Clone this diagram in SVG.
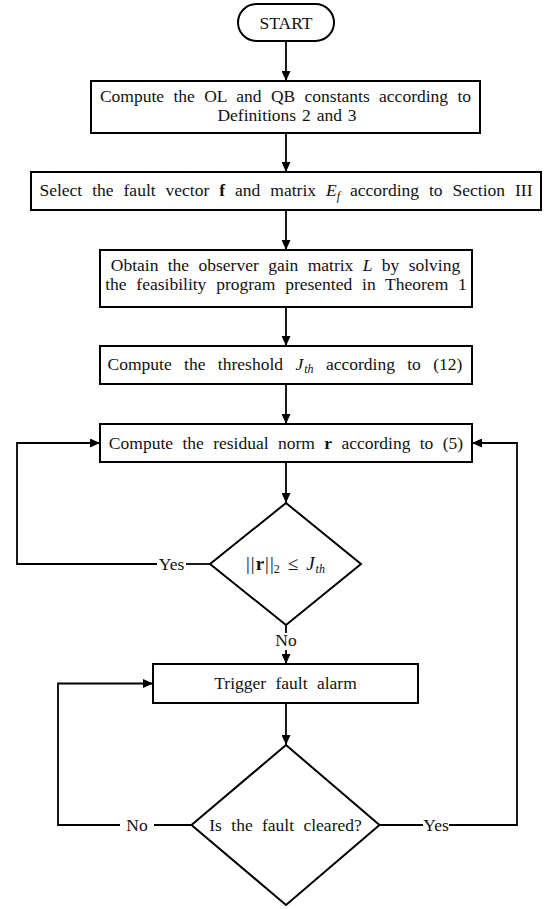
<svg xmlns="http://www.w3.org/2000/svg" width="546" height="909" viewBox="0 0 546 909">
<defs>
<marker id="arr" markerUnits="userSpaceOnUse" markerWidth="10" markerHeight="9" refX="10" refY="4.5" orient="auto">
<path d="M0,0 L10,4.5 L0,9 z" fill="#000"/>
</marker>
<style>
.box{fill:#fff;stroke:#000;stroke-width:2}
.t{font-family:"Liberation Serif","Times New Roman",serif;font-size:17.5px;fill:#111;text-anchor:middle;word-spacing:5px}
.i{font-style:italic}
.b{font-weight:bold}
.s{font-size:12px}
.c{fill:none;stroke:#000;stroke-width:1.8}
.a{marker-end:url(#arr)}
.lbl{font-family:"Liberation Serif","Times New Roman",serif;font-size:17.5px;fill:#111;text-anchor:middle}
</style>
</defs>
<rect width="546" height="909" fill="#fff"/>
<g id="connectors">
<path class="c a" d="M286,41 V81"/>
<path class="c a" d="M286,133 V172"/>
<path class="c a" d="M286,210 V250"/>
<path class="c a" d="M286,307 V346"/>
<path class="c a" d="M286,384 V424"/>
<path class="c a" d="M286,462 V503"/>
<path class="c" d="M210,564 H186"/>
<path class="c a" d="M157,564 H17 V443 H100"/>
<path class="c" d="M286,625 V633"/>
<path class="c a" d="M286,650 V664"/>
<path class="c a" d="M286,703 V745"/>
<path class="c" d="M191.5,825 H154"/>
<path class="c a" d="M120,825 H58 V683.5 H153"/>
<path class="c" d="M379.5,825 H423"/>
<path class="c a" d="M449,825 H517 V443 H472"/>
<text class="lbl" x="171.5" y="570">Yes</text>
<text class="lbl" x="286" y="646">No</text>
<text class="lbl" x="137" y="831">No</text>
<text class="lbl" x="436" y="831">Yes</text>
</g>
<g id="start">
<rect class="box" x="238" y="4" width="96" height="37" rx="18.5"/>
<text class="t" x="286" y="29">START</text>
</g>
<g id="box1">
<rect class="box" x="91" y="81" width="389" height="52"/>
<text class="t" x="285.5" y="102">Compute the OL and QB constants according to</text>
<text class="t" x="287" y="121" style="word-spacing:1.5px">Definitions 2 and 3</text>
</g>
<g id="box2">
<rect class="box" x="31" y="172" width="510" height="38"/>
<text class="t" x="286" y="196" style="word-spacing:5.6px">Select the fault vector <tspan class="b">f</tspan> and matrix <tspan class="i">E</tspan><tspan class="i s" dy="4">f</tspan><tspan dy="-4"> according to Section III</tspan></text>
</g>
<g id="box3">
<rect class="box" x="100" y="250" width="372" height="57"/>
<text class="t" x="285.5" y="271">Obtain the observer gain matrix <tspan class="i">L</tspan> by solving</text>
<text class="t" x="286" y="290" style="word-spacing:5.4px">the feasibility program presented in Theorem 1</text>
</g>
<g id="box4">
<rect class="box" x="100" y="346" width="372" height="38"/>
<text class="t" x="285" y="370" style="word-spacing:8px">Compute the threshold <tspan class="i">J</tspan><tspan class="i s" dx="1" dy="3">th</tspan><tspan dy="-3"> according to (12)</tspan></text>
</g>
<g id="box5">
<rect class="box" x="100" y="424" width="372" height="38"/>
<text class="t" x="286" y="449">Compute the residual norm <tspan class="b">r</tspan> according to (5)</text>
</g>
<g id="decision1">
<path class="box" d="M286,503 L361,564 L286,625 L210,564 z"/>
<text class="t" x="285.5" y="570" style="font-size:19px;word-spacing:0">|<tspan dx="1">|</tspan><tspan class="b" dx="1">r</tspan><tspan dx="1">|</tspan><tspan dx="1">|</tspan><tspan class="s" dy="3">2</tspan><tspan dx="8" dy="-3">≤</tspan><tspan class="i" dx="8">J</tspan><tspan class="i s" dx="1" dy="3">th</tspan></text>
</g>
<g id="box6">
<rect class="box" x="153" y="664" width="265" height="39"/>
<text class="t" x="285.5" y="689">Trigger fault alarm</text>
</g>
<g id="decision2">
<path class="box" d="M286,745 L379.5,825 L286,905 L191.5,825 z"/>
<text class="t" x="285.5" y="831">Is the fault cleared?</text>
</g>
</svg>
